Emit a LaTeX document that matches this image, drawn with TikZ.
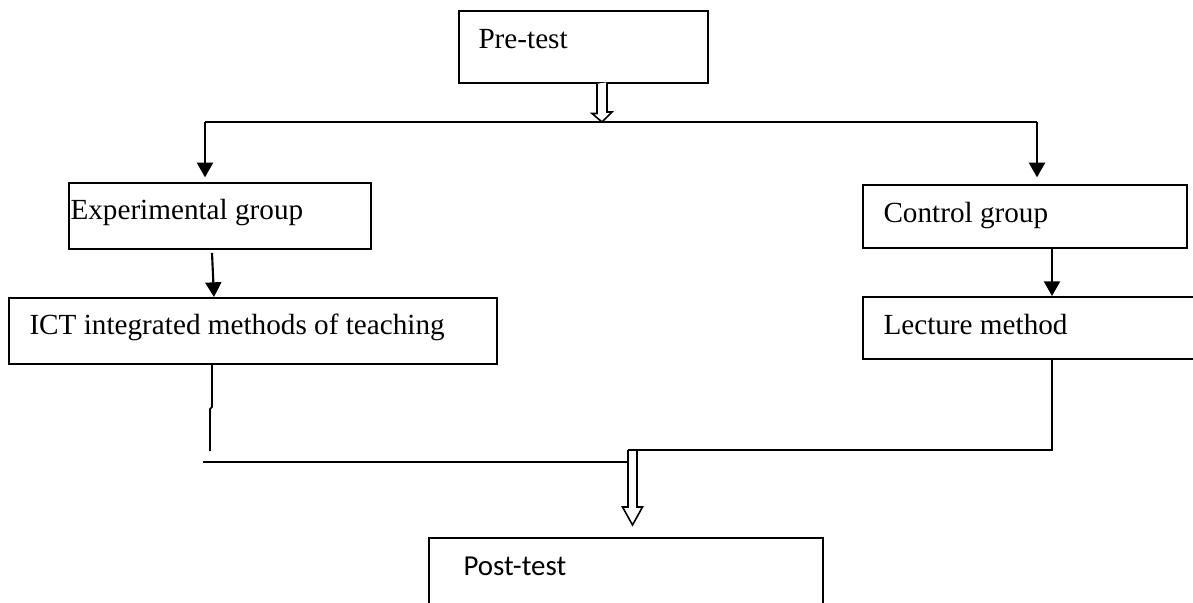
\documentclass[tikz,border=0pt]{standalone}
\usepackage{fontspec}
\setmainfont{Liberation Serif}
\newfontfamily\calibrifont{Carlito}
\usetikzlibrary{arrows.meta,calc}

\tikzset{every picture/.style={line width=0.75pt}}

\begin{document}
\begin{tikzpicture}[x=0.75pt,y=0.75pt,yscale=-1,xscale=1,
  box/.style 2 args={draw, line width=1.35pt, anchor=north west, inner sep=0pt, minimum width=#1*0.75pt, minimum height=#2*0.75pt},
  lbl/.style={anchor=base west, inner sep=0pt, font=\fontsize{21.9}{26}\selectfont},
  flow/.style={line width=1.6pt, -{Triangle[length=11pt,width=12pt]}},
  joinline/.style={line width=1.35pt},
  hollow/.style={draw, line width=1.2pt, fill=white}]
\path[use as bounding box] (0,0) rectangle (1193,603);
\clip (0,0) rectangle (1193,603);

%Shape: Rectangle [pre-test]
\node[box={249}{72}] (pre) at (458,10) {};
%Shape: Rectangle [experimental group]
\node[box={302}{66}] (exp) at (68,182) {};
%Shape: Rectangle [ICT methods]
\node[box={488}{66}] (ict) at (8,297) {};
%Shape: Rectangle [control group]
\node[box={324}{63}] (ctrl) at (862,184) {};
%Shape: Rectangle [lecture method]
\node[box={340}{62}] (lect) at (862,296) {};
%Shape: Rectangle [post-test]
\node[box={394}{80}] (post) at (428,537) {};

% Text Node
\node[lbl] (preT) at (478,48) {Pre-test};
% Text Node
\node[lbl] (expT) at (70,219) {Experimental group};
% Text Node
\node[lbl] (ictT) at (29,334) {ICT integrated methods of teaching};
% Text Node
\node[lbl] (ctrlT) at (883,222) {Control group};
% Text Node
\node[lbl] (lectT) at (883,334) {Lecture method};
% Text Node
\node[lbl, font=\fontsize{21.7}{26}\selectfont\calibrifont] (postT) at (463,575) {Post-test};

% junctions
\coordinate (split) at (602,122);
\coordinate (splitL) at (205,122);
\coordinate (splitR) at (1037,122);
\coordinate (ictDrop) at (212,407);
\coordinate (ictEnd) at (210,451);
\coordinate (mergeL) at (203,462);
\coordinate (merge) at (632.5,450);

%Straight Lines [split line]
\draw[joinline] (splitL) -- (splitR);
%Shape: Down Arrow [pre-test to split]
\draw[hollow] (pre.south -| split) ++(-5,0) -- ++(0,29.7) -- ++(-5,0) -- (split) -- ++(10,-10) -- ++(-5,0) -- ++(0,-29.7);

%Straight Lines [arrows to groups]
\draw[flow, shorten >=3.5pt] (splitL) -- (splitL |- exp.north);
\draw[flow, shorten >=5pt] (splitR) -- (splitR |- ctrl.north);
%Straight Lines [arrows to methods]
\draw[flow] ($(exp.south west)+(144,3)$) -- ($(ict.north west)+(206,0)$);
\draw[flow] (ctrl.south -| 1052,0) -- (lect.north -| 1052,0);

%Shape: Down Arrow [merge to post-test]
\draw[hollow] (merge) ++(-4.5,0) -- ++(0,57) -- ++(-5.5,0) -- ++(10,18) -- ++(10,-18) -- ++(-5.5,0) -- ++(0,-57);

%Straight Lines [methods to merge]
\draw[joinline, line width=1.2pt] (ict.south -| ictDrop) -- (ictDrop) -- ++(-2,2) -- (ictEnd);
\draw[joinline, line width=1.2pt] (mergeL) -- ($(merge |- mergeL)+(-4.5,0)$);
\draw[joinline, line width=1.2pt] (lect.south -| 1052,0) -- (1052,450) -- ($(merge)+(-4.5,0)$);

\end{tikzpicture}
\end{document}
